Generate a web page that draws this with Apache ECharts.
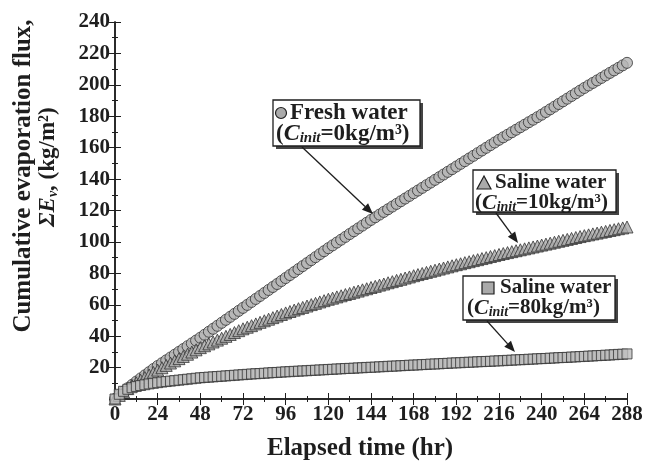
<!DOCTYPE html>
<html>
<head>
<meta charset="utf-8">
<script src="https://cdn.jsdelivr.net/npm/echarts@6/dist/echarts.min.js"></script>
<style>html,body{margin:0;padding:0;background:#fff}#c{width:656px;height:461px}</style>
</head>
<body>
<div id="c"></div>
<script>
const xTicks = [0,24,48,72,96,120,144,168,192,216,240,264,288];
const yTicks = [0,20,40,60,80,100,120,140,160,180,200,220,240];
const times = [0,2.4,4.8,7.2,9.6,12,14.4,16.8,19.2,21.6,
24,26.4,28.8,31.2,33.6,36,38.4,40.8,43.2,45.6,
48,50.4,52.8,55.2,57.6,60,62.4,64.8,67.2,69.6,
72,74.4,76.8,79.2,81.6,84,86.4,88.8,91.2,93.6,
96,98.4,100.8,103.2,105.6,108,110.4,112.8,115.2,117.6,
120,122.4,124.8,127.2,129.6,132,134.4,136.8,139.2,141.6,
144,146.4,148.8,151.2,153.6,156,158.4,160.8,163.2,165.6,
168,170.4,172.8,175.2,177.6,180,182.4,184.8,187.2,189.6,
192,194.4,196.8,199.2,201.6,204,206.4,208.8,211.2,213.6,
216,218.4,220.8,223.2,225.6,228,230.4,232.8,235.2,237.6,
240,242.4,244.8,247.2,249.6,252,254.4,256.8,259.2,261.6,
264,266.4,268.8,271.2,273.6,276,278.4,280.8,283.2,285.6,
288];
const freshWater = [0,2.4,4.7,6.9,9.0,11.1,13.1,15.1,17.1,19.1,21.0,
22.8,24.6,26.4,28.2,30.0,31.8,33.6,35.4,37.2,39.0,
40.9,42.8,44.7,46.6,48.5,50.4,52.3,54.2,56.1,58.0,
59.9,61.8,63.7,65.6,67.5,69.4,71.3,73.2,75.1,77.0,
78.9,80.8,82.7,84.6,86.5,88.4,90.3,92.2,94.1,96.0,
97.8,99.6,101.4,103.2,105.0,106.8,108.6,110.4,112.2,114.0,
115.7,117.4,119.1,120.8,122.5,124.2,125.9,127.6,129.3,131.0,
132.7,134.4,136.1,137.8,139.5,141.2,142.9,144.6,146.3,148.0,
149.7,151.4,153.1,154.8,156.5,158.2,159.9,161.6,163.3,165.0,
166.6,168.2,169.8,171.4,173.0,174.6,176.2,177.8,179.4,181.0,
182.7,184.4,186.1,187.8,189.5,191.2,192.9,194.6,196.3,198.0,
199.6,201.2,202.8,204.4,206.0,207.6,209.2,210.8,212.4,214.0];
const saline10 = [0,2.3,4.5,6.6,8.5,10.3,12.0,13.7,15.3,16.9,18.4,
19.9,21.4,22.9,24.3,25.7,27.1,28.5,29.9,31.3,32.7,
33.9,35.1,36.3,37.5,38.7,39.9,41.1,42.3,43.5,44.7,
45.7,46.7,47.8,48.8,49.8,50.8,51.8,52.8,53.8,54.8,
55.7,56.6,57.5,58.3,59.2,60.1,60.9,61.8,62.6,63.5,
64.2,65.0,65.7,66.5,67.2,68.0,68.7,69.5,70.2,71.0,
71.7,72.5,73.2,74.0,74.7,75.5,76.2,77.0,77.7,78.5,
79.2,79.9,80.6,81.3,82.0,82.7,83.4,84.1,84.8,85.5,
86.1,86.8,87.4,88.1,88.7,89.4,90.0,90.7,91.3,92.0,
92.6,93.2,93.8,94.4,95.0,95.6,96.2,96.8,97.4,98.0,
98.6,99.2,99.8,100.4,101.0,101.6,102.2,102.8,103.4,104.0,
104.5,105.1,105.6,106.2,106.7,107.3,107.8,108.4,108.9,109.5];
const saline80 = [0,3.0,4.9,6.2,7.2,8.0,8.6,9.1,9.6,10.0,10.4,
10.8,11.1,11.4,11.7,12.0,12.3,12.6,12.9,13.2,13.5,
13.7,13.9,14.1,14.3,14.5,14.7,14.9,15.1,15.3,15.5,
15.7,15.9,16.1,16.2,16.4,16.6,16.8,16.9,17.1,17.3,
17.4,17.6,17.7,17.9,18.0,18.2,18.3,18.5,18.6,18.8,
18.9,19.1,19.2,19.4,19.5,19.6,19.8,19.9,20.1,20.2,
20.3,20.5,20.6,20.8,20.9,21.0,21.2,21.3,21.5,21.6,
21.7,21.9,22.0,22.2,22.3,22.4,22.6,22.7,22.9,23.0,
23.1,23.3,23.4,23.5,23.7,23.8,23.9,24.0,24.2,24.3,
24.4,24.6,24.7,24.9,25.0,25.1,25.3,25.4,25.6,25.7,
25.8,26.0,26.1,26.3,26.4,26.5,26.7,26.8,27.0,27.1,
27.3,27.4,27.6,27.7,27.9,28.0,28.2,28.4,28.5,28.7];

const seriesNames = ['Fresh water', 'Saline water', 'Saline water'];
const xTitle = 'Elapsed time (hr)';

const FONT = '"Liberation Serif", "Times New Roman", serif';
const INK = '#1e1e1e';

const chart = echarts.init(document.getElementById('c'));

function arrow(x1, y1, x2, y2) {
  const ang = Math.atan2(y2 - y1, x2 - x1);
  const L = 11, W = 4.5;
  const bx = x2 - L * Math.cos(ang), by = y2 - L * Math.sin(ang);
  const px = -Math.sin(ang) * W, py = Math.cos(ang) * W;
  return [
    { type: 'line', shape: { x1, y1, x2: bx, y2: by }, style: { stroke: INK, lineWidth: 1.3 }, z: 50 },
    { type: 'polygon', shape: { points: [[x2, y2], [bx + px, by + py], [bx - px, by - py]] }, style: { fill: INK }, z: 50 }
  ];
}

function box(x, y, w, h) {
  return [
    { type: 'rect', shape: { x: x + 3, y: y + 3, width: w, height: h }, style: { fill: '#444' }, z: 49 },
    { type: 'rect', shape: { x, y, width: w, height: h }, style: { fill: '#fff', stroke: INK, lineWidth: 1.3 }, z: 50 }
  ];
}

function richLine(fs) {
  return {
    p: { fontFamily: FONT, fontWeight: 'bold', fontSize: fs, fill: INK, lineHeight: fs + 1 },
    c: { fontFamily: FONT, fontWeight: 'bold', fontStyle: 'italic', fontSize: fs + 1, fill: INK, lineHeight: fs + 1 },
    s: { fontFamily: FONT, fontWeight: 'bold', fontStyle: 'italic', fontSize: Math.round(fs * 0.67), fill: INK, lineHeight: fs + 1, verticalAlign: 'bottom', padding: [6, 0, 0, 0] }
  };
}

function label(x, y, text, fs, rich) {
  return { type: 'text', x, y, z: 51, style: { text, rich, fontFamily: FONT, fontWeight: 'bold', fontSize: fs, fill: INK, textAlign: 'left', textVerticalAlign: 'middle' } };
}

const graphics = [].concat(
  box(273, 100, 147, 46),
  [{ type: 'circle', shape: { cx: 281, cy: 113, r: 5.5 }, style: { fill: '#aaa', stroke: INK, lineWidth: 1.2 }, z: 51 }],
  [label(290, 113, seriesNames[0], 23)],
  [label(276, 134, '{p|(}{c|C}{s|init}{p|=0kg/m³)}', 23, richLine(23))],
  arrow(302, 147, 373, 214),

  box(473, 170, 143, 42),
  [{ type: 'polygon', shape: { points: [[484, 176], [477, 189], [491, 189]] }, style: { fill: '#aaa', stroke: INK, lineWidth: 1.2 }, z: 51 }],
  [label(495, 183, seriesNames[1], 21)],
  [label(475, 203, '{p|(}{c|C}{s|init}{p|=10kg/m³)}', 21, richLine(21))],
  arrow(496, 213, 518, 243),

  box(463, 276, 152, 44),
  [{ type: 'rect', shape: { x: 482, y: 282, width: 12, height: 12 }, style: { fill: '#aaa', stroke: INK, lineWidth: 1.2 }, z: 51 }],
  [label(500, 288, seriesNames[2], 21)],
  [label(467, 308, '{p|(}{c|C}{s|init}{p|=80kg/m³)}', 21, richLine(21))],
  arrow(487, 321, 515, 352),

  [{
    type: 'text', x: 24, y: 176, rotation: Math.PI / 2, z: 51,
    style: { text: 'Cumulative evaporation flux,', fontFamily: FONT, fontWeight: 'bold', fontSize: 25, fill: INK, textAlign: 'center', textVerticalAlign: 'middle' }
  }, {
    type: 'text', x: 48, y: 167, rotation: Math.PI / 2, z: 51,
    style: {
      text: '{c|ΣE}{s|v}{p|, (kg/m²)}', textAlign: 'center', textVerticalAlign: 'middle',
      rich: {
        p: { fontFamily: FONT, fontWeight: 'bold', fontSize: 23, fill: INK, lineHeight: 24 },
        c: { fontFamily: FONT, fontWeight: 'bold', fontStyle: 'italic', fontSize: 23, fill: INK, lineHeight: 24 },
        s: { fontFamily: FONT, fontWeight: 'bold', fontStyle: 'italic', fontSize: 14, fill: INK, lineHeight: 24, verticalAlign: 'bottom', padding: [7, 0, 0, 0] }
      }
    }
  }, {
    type: 'text', x: 360, y: 449, z: 51,
    style: { text: xTitle, fontFamily: FONT, fontWeight: 'bold', fontSize: 25, fill: INK, textAlign: 'center', textVerticalAlign: 'middle' }
  }]
);

const axisLineStyle = { color: INK, width: 1.5 };

const option = {
  animation: false,
  backgroundColor: '#fff',
  grid: { left: 115, right: 29, top: 22, bottom: 62, containLabel: false },
  xAxis: [{
    type: 'value', min: xTicks[0], max: xTicks[xTicks.length - 1], interval: 24,
    axisLine: { show: true, lineStyle: axisLineStyle },
    axisTick: { show: true, inside: true, length: 6, lineStyle: { color: INK } },
    minorTick: { show: true, splitNumber: 2, length: 3, lineStyle: { color: INK } },
    splitLine: { show: false },
    axisLabel: { fontFamily: FONT, fontWeight: 'bold', fontSize: 21, color: INK, margin: 5 }
  }, {
    type: 'value', position: 'top', min: xTicks[0], max: xTicks[xTicks.length - 1], interval: 24,
    axisLine: { show: true, lineStyle: axisLineStyle },
    axisTick: { show: true, inside: true, length: 6, lineStyle: { color: INK } },
    minorTick: { show: true, splitNumber: 2, length: 3, lineStyle: { color: INK } },
    splitLine: { show: false }, axisLabel: { show: false }
  }],
  yAxis: [{
    type: 'value', min: yTicks[0], max: yTicks[yTicks.length - 1], interval: 20,
    axisLine: { show: true, lineStyle: axisLineStyle },
    axisTick: { show: true, inside: true, length: 6, lineStyle: { color: INK } },
    minorTick: { show: true, splitNumber: 2, length: 3, lineStyle: { color: INK } },
    splitLine: { show: false },
    axisLabel: { fontFamily: FONT, fontWeight: 'bold', fontSize: 21, color: INK, margin: 5,
      formatter: v => (v === 0 ? '' : String(v)) }
  }, {
    type: 'value', position: 'right', min: yTicks[0], max: yTicks[yTicks.length - 1], interval: 20,
    axisLine: { show: true, lineStyle: axisLineStyle },
    axisTick: { show: true, inside: true, length: 6, lineStyle: { color: INK } },
    minorTick: { show: true, splitNumber: 2, length: 3, lineStyle: { color: INK } },
    splitLine: { show: false }, axisLabel: { show: false }
  }],
  series: [{
    name: 'Fresh water (C_init=0)', type: 'scatter', xAxisIndex: 0, yAxisIndex: 0,
    symbol: 'circle', symbolSize: 11,
    itemStyle: { color: '#b4b4b4', borderColor: '#333', borderWidth: 1 },
    data: times.map((t, i) => [t, freshWater[i]]), z: 3
  }, {
    name: 'Saline water (C_init=10)', type: 'scatter', xAxisIndex: 0, yAxisIndex: 0,
    symbol: 'triangle', symbolSize: 12,
    itemStyle: { color: '#a8a8a8', borderColor: '#333', borderWidth: 1 },
    data: times.map((t, i) => [t, saline10[i]]), z: 4
  }, {
    name: 'Saline water (C_init=80)', type: 'scatter', xAxisIndex: 0, yAxisIndex: 0,
    symbol: 'rect', symbolSize: 10,
    itemStyle: { color: '#bdbdbd', borderColor: '#333', borderWidth: 1 },
    data: times.map((t, i) => [t, saline80[i]]), z: 5
  }],
  graphic: graphics
};
chart.setOption(option);
</script>
</body>
</html>
